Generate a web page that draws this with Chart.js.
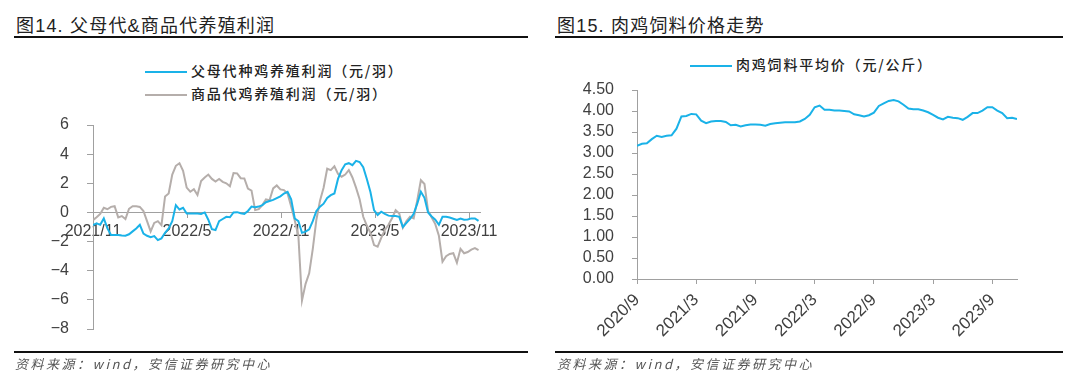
<!DOCTYPE html>
<html lang="zh">
<head>
    <meta charset="UTF-8">
    <title>父母代&商品代养殖利润 / 肉鸡饲料价格走势</title>
    <script src="https://cdn.jsdelivr.net/npm/chart.js"></script>
    <style>
        body { margin: 0; background: #fff; font-family: "Liberation Sans", "Noto Sans CJK SC", sans-serif; }
        .page { position: relative; width: 1080px; height: 392px; overflow: hidden; }
        .title { position: absolute; top: 11px; font-size: 18px; color: #222; letter-spacing: 1.2px; white-space: nowrap; }
        .rule { position: absolute; height: 2px; background: #111; }
        .legend { position: absolute; font-family: "Noto Sans CJK SC", sans-serif; font-size: 14px; font-weight: 500; letter-spacing: 1.8px; color: #222; white-space: nowrap; line-height: 20px; }
        .legend i { display: inline-block; width: 42px; height: 2px; vertical-align: middle; margin-right: 4px; }
        .source { position: absolute; top: 354px; font-family: "Noto Sans CJK SC", sans-serif; font-size: 13px; font-style: italic; letter-spacing: 2.5px; color: #555; white-space: nowrap; }
        canvas { position: absolute; top: 0; }
    </style>
</head>
<body>
<div class="page">
    <div class="title" style="left:16px">图14. 父母代&amp;商品代养殖利润</div>
    <div class="rule" style="left:14px; top:36px; width:514px"></div>
    <div class="legend" style="left:145px; top:60px"><i style="background:#1ab2e8"></i>父母代种鸡养殖利润（元/羽）</div>
    <div class="legend" style="left:145px; top:83px"><i style="background:#b5aeab"></i>商品代鸡养殖利润（元/羽）</div>
    <canvas id="profitChart" width="540" height="392" style="left:0"></canvas>
    <div class="rule" style="left:14px; top:351px; width:514px"></div>
    <div class="source" style="left:15px">资料来源：wind，安信证券研究中心</div>

    <div class="title" style="left:557px">图15. 肉鸡饲料价格走势</div>
    <div class="rule" style="left:555px; top:36px; width:508px"></div>
    <div class="legend" style="left:690px; top:54px"><i style="background:#1ab2e8"></i>肉鸡饲料平均价（元/公斤）</div>
    <canvas id="feedChart" width="540" height="392" style="left:540px"></canvas>
    <div class="rule" style="left:555px; top:351px; width:508px"></div>
    <div class="source" style="left:557px">资料来源：wind，安信证券研究中心</div>
</div>

<script>
    // weekly profit, yuan per bird, from 2021/11
    const parentProfit = [
        -0.87, -0.75, -0.85, -0.41, -1.10, -1.55, -1.55, -1.55, -1.58, -1.60,
        -1.50, -1.30, -1.10, -0.85, -1.45, -1.60, -1.70, -1.62, -1.90, -1.78,
        -1.40, -1.10, -0.60, 0.50, 0.20, 0.32, -0.07, -0.07, -0.07, -0.08,
        -0.10, 0.00, -0.50, -1.15, -1.21, -0.60, -0.45, -0.30, -0.33, 0.00,
        0.02, -0.05, -0.10, 0.10, 0.40, 0.35, 0.40, 0.50, 0.70, 0.78,
        0.86, 0.98, 1.10, 1.30, 1.42, 0.90, -0.42, -0.60, -1.40, -1.32,
        -1.16, -0.60, 0.10, 0.40, 0.60, 1.00, 1.19, 1.30, 2.30, 2.90,
        3.30, 3.38, 3.24, 3.54, 3.46, 3.10, 2.30, 1.40, 0.16, -0.18,
        0.05, -0.10, -0.22, -0.25, -0.25, -0.30, -1.00, -0.72, -0.45, -0.10,
        0.60, 1.42, 1.00, 0.00, -0.28, -0.50, -0.85, -0.30, -0.30, -0.35,
        -0.43, -0.52, -0.42, -0.50, -0.48, -0.41, -0.41, -0.58
    ];
    const commercialProfit = [
        -0.53, -0.33, -0.10, 0.32, 0.22, 0.38, 0.43, -0.34, -0.25, -0.45,
        0.25, 0.43, 0.42, 0.38, 0.10, -0.60, -1.30, -0.72, -0.60, -0.87,
        1.10, 1.30, 2.60, 3.20, 3.38, 2.85, 1.70, 1.42, 1.60, 1.20,
        2.15, 2.40, 2.60, 2.30, 2.12, 2.30, 2.10, 2.00, 1.80, 2.70,
        2.68, 2.35, 2.33, 1.64, 1.50, 0.16, 0.22, 0.50, 0.89, 0.84,
        1.65, 1.85, 1.58, 1.53, 1.30, 0.40, -0.55, -1.60, -6.05, -4.90,
        -4.18, -2.50, -0.50, 0.80, 1.70, 3.00, 2.90, 3.17, 2.65, 2.45,
        2.60, 2.90, 2.40, 1.70, 0.90, -0.30, -0.90, -1.40, -2.24, -2.35,
        -1.75, -1.20, -0.85, -0.40, 0.15, -0.07, -1.05, -0.60, -0.30, -0.40,
        0.84, 2.21, 1.95, 0.10, -0.35, -0.80, -1.60, -3.38, -3.00, -2.85,
        -2.80, -3.45, -2.50, -2.80, -2.72, -2.55, -2.45, -2.58
    ];
    const profitTicks = ["2021/11", "2022/5", "2022/11", "2023/5", "2023/11"];

    // half-monthly feed price, yuan per kg, from 2020/9
    const feedPrice = [
        3.17, 3.22, 3.23, 3.33, 3.41, 3.38, 3.41, 3.42, 3.58, 3.87,
        3.88, 3.93, 3.92, 3.77, 3.71, 3.75, 3.76, 3.76, 3.74, 3.66,
        3.67, 3.63, 3.66, 3.68, 3.68, 3.67, 3.65, 3.69, 3.71, 3.72,
        3.73, 3.73, 3.73, 3.75, 3.81, 3.91, 4.09, 4.13, 4.03, 4.03,
        4.01, 4.01, 4.00, 3.99, 3.92, 3.90, 3.87, 3.90, 3.96, 4.12,
        4.18, 4.24, 4.26, 4.23, 4.15, 4.06, 4.04, 4.04, 4.01, 3.97,
        3.91, 3.84, 3.80, 3.86, 3.84, 3.83, 3.79, 3.86, 3.95, 3.95,
        4.01, 4.09, 4.09, 4.01, 3.95, 3.83, 3.84, 3.81
    ];
    const feedTicks = ["2020/9", "2021/3", "2021/9", "2022/3", "2022/9", "2023/3", "2023/9"];

    const BLUE = "#1ab2e8";
    const GREY = "#b5aeab";
    const AXIS = "#a0a0a0";
    const LABEL = "#404040";
    const WEEK = 7 / 30.44;   // one week in months

    // x values are months from the first label
    const toPoints = (arr, step) => arr.map((v, i) => ({ x: i * step, y: v }));
    const sixMonthTicks = labels => scale => { scale.ticks = labels.map((_, i) => ({ value: i * 6 })); };

    Chart.defaults.font.family = '"Liberation Sans", Arial, sans-serif';

    new Chart(document.getElementById("profitChart"), {
        type: "line",
        data: {
            datasets: [
                { label: "父母代种鸡养殖利润（元/羽）", data: toPoints(parentProfit, WEEK), borderColor: BLUE, borderWidth: 2 },
                { label: "商品代鸡养殖利润（元/羽）", data: toPoints(commercialProfit, WEEK), borderColor: GREY, borderWidth: 2 }
            ]
        },
        options: {
            responsive: false,
            animation: false,
            devicePixelRatio: 1,
            elements: { point: { radius: 0 }, line: { tension: 0 } },
            layout: { padding: { left: 43, right: 60, top: 125, bottom: 63 } },
            plugins: { legend: { display: false }, tooltip: { enabled: false } },
            scales: {
                x: {
                    type: "linear",
                    position: { y: 0 },
                    min: 0,
                    max: 24.7,
                    z: 1,
                    afterBuildTicks: sixMonthTicks(profitTicks),
                    grid: { drawOnChartArea: false, color: AXIS, tickLength: 5 },
                    border: { color: AXIS, width: 1 },
                    ticks: {
                        autoSkip: false, maxRotation: 0, padding: 5,
                        color: LABEL, font: { size: 16 },
                        callback: (v, i) => profitTicks[i]
                    }
                },
                y: {
                    min: -8,
                    max: 6,
                    afterFit: s => { s.width = 50; },
                    grid: { drawOnChartArea: false, color: AXIS, tickLength: 6 },
                    border: { color: AXIS, width: 1 },
                    ticks: {
                        stepSize: 2, padding: 18, color: LABEL, font: { size: 16 },
                        callback: v => v < 0 ? "\u2212" + Math.abs(v) : String(v)
                    }
                }
            }
        }
    });

    new Chart(document.getElementById("feedChart"), {
        type: "line",
        data: {
            datasets: [
                { label: "肉鸡饲料平均价（元/公斤）", data: toPoints(feedPrice, 0.5), borderColor: BLUE, borderWidth: 2 }
            ]
        },
        options: {
            responsive: false,
            animation: false,
            devicePixelRatio: 1,
            elements: { point: { radius: 0 }, line: { tension: 0 } },
            layout: { padding: { left: 37, right: 63, top: 90, bottom: 53 } },
            plugins: { legend: { display: false }, tooltip: { enabled: false } },
            scales: {
                x: {
                    type: "linear",
                    min: 0,
                    max: 38.5,
                    afterBuildTicks: sixMonthTicks(feedTicks),
                    afterFit: s => { s.height = 60; },
                    grid: { drawOnChartArea: false, color: AXIS, tickLength: 5 },
                    border: { color: AXIS, width: 1 },
                    ticks: {
                        autoSkip: false, minRotation: 45, maxRotation: 45, padding: 6,
                        color: LABEL, font: { size: 17 },
                        callback: (v, i) => feedTicks[i]
                    }
                },
                y: {
                    min: 0,
                    max: 4.5,
                    afterFit: s => { s.width = 60; },
                    grid: { drawOnChartArea: false, color: AXIS, tickLength: 5 },
                    border: { color: AXIS, width: 1 },
                    ticks: {
                        stepSize: 0.5, autoSkip: false, padding: 18, color: LABEL, font: { size: 16 },
                        callback: v => v.toFixed(2)
                    }
                }
            }
        }
    });
</script>
</body>
</html>
